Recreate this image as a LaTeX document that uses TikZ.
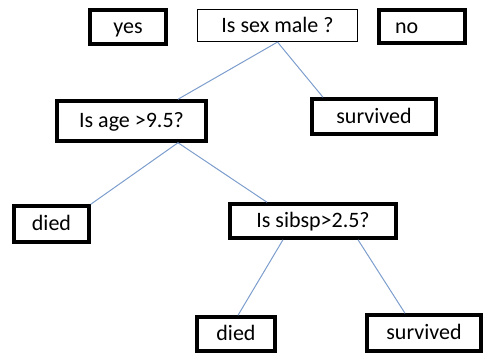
\documentclass[tikz,border=0pt]{standalone}
\usepackage{fontspec}
\setmainfont{Carlito}
\begin{document}
\begin{tikzpicture}[x=1pt, y=-1pt,
  leafbox/.style={rectangle, draw, line width=3.5pt, inner sep=0pt, text height=16, text depth=3},
  askbox/.style={rectangle, draw, line width=1.1pt, inner sep=0pt, text height=16, text depth=3},
  branch/.style={draw={rgb,255:red,125;green,158;blue,205}, line width=1pt},
  font=\fontsize{22}{25}\selectfont]
  \useasboundingbox (0,0) rectangle (485,354);
  % Nodes
  \node (yes) [leafbox, minimum height=34, minimum width=76] at (128, 27) {yes};
  \node (sex) [askbox, minimum height=32, minimum width=160] at (277.5, 25.5) {Is sex male ?};
  \node (no) [leafbox, minimum height=33, minimum width=86, text width=54, inner xsep=16, align=left] at (422, 26.5) {no};
  \node (age) [leafbox, minimum height=40, minimum width=149] at (131.5, 121) {Is age >9.5?};
  \node (surv1) [leafbox, minimum height=35, minimum width=124] at (374, 116.5) {survived};
  \node (died1) [leafbox, minimum height=36, minimum width=75] at (51.5, 224) {died};
  \node (sibsp) [leafbox, minimum height=34, minimum width=166] at (313, 221) {Is sibsp>2.5?};
  \node (died2) [leafbox, minimum height=34, minimum width=78] at (236, 334) {died};
  \node (surv2) [leafbox, minimum height=36, minimum width=114] at (424, 333) {survived};
  % Lines
  \draw[branch] (sex.south) -- ([xshift=46.5]age.north);
  \draw[branch] (sex.south) -- ([xshift=-51]surv1.north);
  \draw[branch] ([xshift=46.5]age.south) -- (died1.north east);
  \draw[branch] ([xshift=46.5]age.south) -- ([xshift=-46]sibsp.north);
  \draw[branch] ([xshift=-30]sibsp.south) -- ([xshift=2]died2.north);
  \draw[branch] ([xshift=45]sibsp.south) -- ([xshift=-19]surv2.north);
\end{tikzpicture}
\end{document}
